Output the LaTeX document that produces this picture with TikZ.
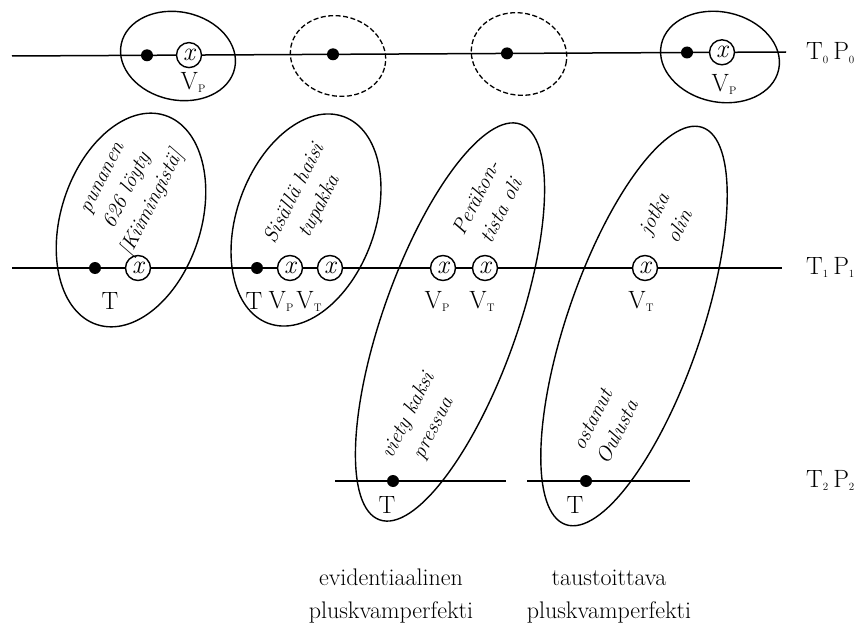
\documentclass[tikz,border=0pt]{standalone}
\usepackage{fontspec}
\newcommand{\sbs}[1]{\raisebox{-3pt}{\fontsize{11}{11}\selectfont #1}}
\tikzset{
  hline/.style={line width=1.5pt},
  oval/.style={line width=1.4pt},
  dashoval/.style={line width=1.3pt, dash pattern=on 5pt off 2.5pt},
  dot/.style={circle, fill=black, inner sep=0pt, minimum size=12pt},
  xcirc/.style={circle, draw, line width=1.4pt, inner sep=0pt, minimum size=25pt, fill=white,
    font=\fontsize{26}{26}\selectfont\itshape},
  lab/.style={font=\fontsize{25}{25}\selectfont, inner sep=0pt},
  itx/.style={font=\fontsize{21}{28}\selectfont\itshape, align=center, rotate=63, inner sep=0pt},
  capt/.style={font=\fontsize{24}{24}\selectfont, inner sep=0pt, anchor=base},
}
\begin{document}
\begin{tikzpicture}[x=1pt,y=-1pt]
\useasboundingbox (0,0) rectangle (863,626);
% ---------- top row ----------
\coordinate (t0a) at (12,56);
\coordinate (t0b) at (786,52);
\draw[hline] (t0a) -- (t0b);
\draw[oval, rotate around={-12:(178,56)}] (178,56) ellipse [x radius=58pt, y radius=44pt];
\draw[dashoval, rotate around={-12:(338,56)}] (338,56) ellipse [x radius=48pt, y radius=40pt];
\draw[dashoval, rotate around={-12:(519,54)}] (519,54) ellipse [x radius=48pt, y radius=41pt];
\draw[oval, rotate around={-12:(720,57)}] (720,57) ellipse [x radius=60pt, y radius=45pt];
\node[dot] (d01) at (147,55.3) {};
\node[xcirc] (x01) at (189,55.1) {x};
\node[dot] (d02) at (333,54.3) {};
\node[dot] (d03) at (507,53.4) {};
\node[dot] (d04) at (687,52.5) {};
\node[xcirc] (x04) at (722,52.3) {x};
\node[lab] (v01) at (193,82) {V\sbs{P}};
\node[lab] (v04) at (724,84) {V\sbs{P}};
\node[lab, anchor=base west] (l0) at (806,60) {T\sbs{0}\hspace{5pt}P\sbs{0}};
% ---------- middle row ----------
\coordinate (t1a) at (12,268);
\coordinate (t1b) at (782,268);
\draw[hline] (t1a) -- (t1b);
\draw[oval, rotate around={-18:(131,220)}] (131,220) ellipse [x radius=70pt, y radius=110pt];
\draw[oval, rotate around={-20:(306,220)}] (306,220) ellipse [x radius=69pt, y radius=110pt];
\draw[oval, rotate around={-19.6:(450,322)}] (450,322) ellipse [x radius=67pt, y radius=210pt];
\draw[oval, rotate around={-19:(634,326)}] (634,326) ellipse [x radius=67pt, y radius=210pt];
\node[dot] (d11) at (95,268) {};
\node[xcirc] (x11) at (138,268) {x};
\node[dot] (d12) at (257,268) {};
\node[xcirc] (x12) at (290,268) {x};
\node[xcirc] (x13) at (330,268) {x};
\node[xcirc] (x14) at (443,268) {x};
\node[xcirc] (x15) at (485,268) {x};
\node[xcirc] (x16) at (645,268) {x};
\node[lab] (tA) at (110,301) {T};
\node[lab] (tB) at (254,301) {T};
\node[lab] (vB1) at (281,301) {V\sbs{P}};
\node[lab] (vB2) at (309,301) {V\sbs{T}};
\node[lab] (vC1) at (437,301) {V\sbs{P}};
\node[lab] (vC2) at (482,301) {V\sbs{T}};
\node[lab] (vD) at (641,301) {V\sbs{T}};
\node[lab, anchor=base west] (l1) at (806,274) {T\sbs{1}\hspace{5pt}P\sbs{1}};
\node[itx] (txA) at (130,192) {punanen\\626 löyty\\{[Kiimingistä]}};
\node[itx] (txB) at (307,200) {Sisällä haisi\\tupakka};
\node[itx] (txC) at (488,204) {Peräkon-\\tista oli};
\node[itx] (txD) at (666,220) {jotka\\olin};
% ---------- bottom row ----------
\coordinate (t2a) at (335,481);
\coordinate (t2b) at (506,481);
\coordinate (t2c) at (527,481);
\coordinate (t2d) at (690,481);
\draw[hline] (t2a) -- (t2b);
\draw[hline] (t2c) -- (t2d);
\node[dot] (d21) at (393,481) {};
\node[dot] (d22) at (586,481) {};
\node[lab] (tC) at (387,505) {T};
\node[lab] (tD) at (575,505) {T};
\node[lab, anchor=base west] (l2) at (806,487) {T\sbs{2}\hspace{5pt}P\sbs{2}};
\node[itx] (txE) at (421,422) {viety kaksi\\pressua};
\node[itx] (txF) at (605,426) {ostanut\\Oulusta};
% ---------- captions ----------
\node[capt] (c1) at (391,585) {evidentiaalinen};
\node[capt] (c2) at (391,618) {pluskvamperfekti};
\node[capt] (c3) at (609,585) {taustoittava};
\node[capt] (c4) at (609,618) {pluskvamperfekti};
\end{tikzpicture}
\end{document}
